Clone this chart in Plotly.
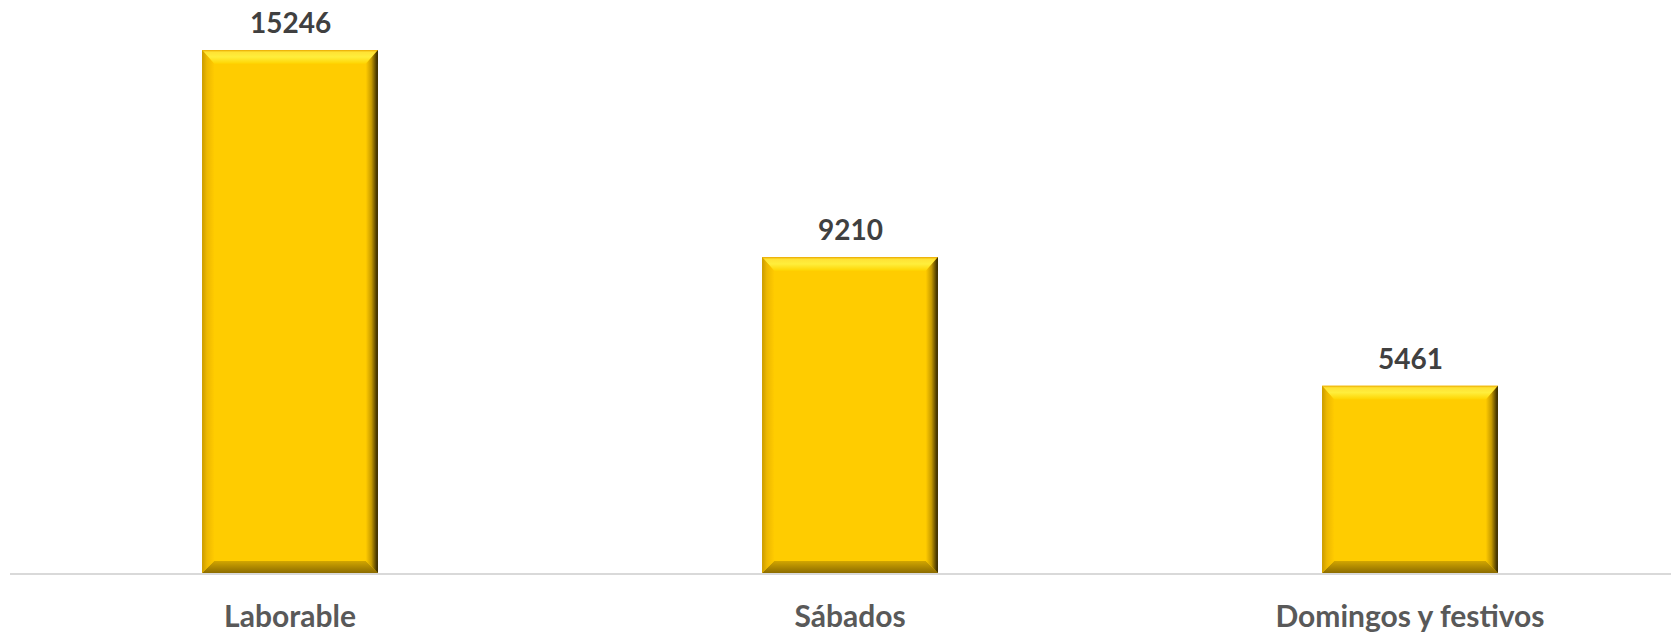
import plotly.graph_objects as go

# Daily counts by type of day
categories = ["Laborable", "Sábados", "Domingos y festivos"]
values = [15246, 9210, 5461]

# Figure geometry
W, H = 1671, 632
M_L, M_R, M_T, M_B = 10, 0, 20, 59
CAT_PX = 560          # horizontal space per category, in pixels
Y_MAX = 16121
BAR_W = 0.314
BEVEL_PX = 12

plot_w = W - M_L - M_R
plot_h = H - M_T - M_B
x_end = -0.5 + plot_w / CAT_PX
px_per_x = CAT_PX
px_per_y = plot_h / Y_MAX
bx = BEVEL_PX / px_per_x
by = BEVEL_PX / px_per_y

BAR_COLOR = "#FFCC00"
FONT = "Lato"

fig = go.Figure()

fig.add_trace(go.Bar(
    x=list(range(len(categories))),
    y=values,
    width=BAR_W,
    marker=dict(color=BAR_COLOR, line=dict(width=0)),
    hoverinfo="skip",
    showlegend=False,
))


def facet(xs, ys, gtype, scale):
    fig.add_trace(go.Scatter(
        x=xs + [xs[0]], y=ys + [ys[0]],
        mode="lines", line=dict(width=0),
        fill="toself",
        fillgradient=dict(type=gtype, colorscale=scale),
        hoverinfo="skip", showlegend=False,
    ))


# Bevelled edges on every bar, built from the bar's own value
for i, v in enumerate(values):
    x0, x1 = i - BAR_W / 2, i + BAR_W / 2
    top_by = by * 1.15
    # top facet
    facet([x0, x1, x1 - bx, x0 + bx], [v, v, v - top_by, v - top_by], "vertical",
          [[0, "#FFD400"], [0.5, "#FFEE3C"], [0.85, "#FFE234"], [1, "#E9A800"]])
    # bottom facet
    facet([x0, x1, x1 - bx, x0 + bx], [0, 0, by, by], "vertical",
          [[0, "#8C6C00"], [1, "#D2A600"]])
    # left facet
    facet([x0, x0, x0 + bx, x0 + bx], [0, v, v - top_by, by], "horizontal",
          [[0, "#C99A00"], [0.4, "#EDB800"], [1, "#FFCA00"]])
    # right facet
    facet([x1, x1, x1 - bx, x1 - bx], [0, v, v - top_by, by], "horizontal",
          [[0, "#FFCA00"], [0.45, "#C89C00"], [1, "#2A2000"]])

# Value labels above the bars
for i, v in enumerate(values):
    fig.add_annotation(
        x=i, y=v, text=str(v), showarrow=False,
        yanchor="middle", yshift=28,
        font=dict(family=FONT, size=28, color="#404040", weight="bold"),
    )

fig.update_layout(
    width=W, height=H,
    margin=dict(l=M_L, r=M_R, t=M_T, b=M_B, autoexpand=False),
    paper_bgcolor="white", plot_bgcolor="white",
    showlegend=False,
    xaxis=dict(
        range=[-0.5, x_end],
        tickmode="array",
        tickvals=list(range(len(categories))),
        ticktext=categories,
        tickfont=dict(family=FONT, size=30, color="#595959", weight="bold"),
        ticks="", ticklabelstandoff=16, automargin=False,
        showline=True, linecolor="#D9D9D9", linewidth=2,
        showgrid=False, zeroline=False, fixedrange=True,
    ),
    yaxis=dict(
        range=[0, Y_MAX], visible=False, showgrid=False, zeroline=False,
        fixedrange=True, automargin=False,
    ),
)

fig.write_html("out.html")
